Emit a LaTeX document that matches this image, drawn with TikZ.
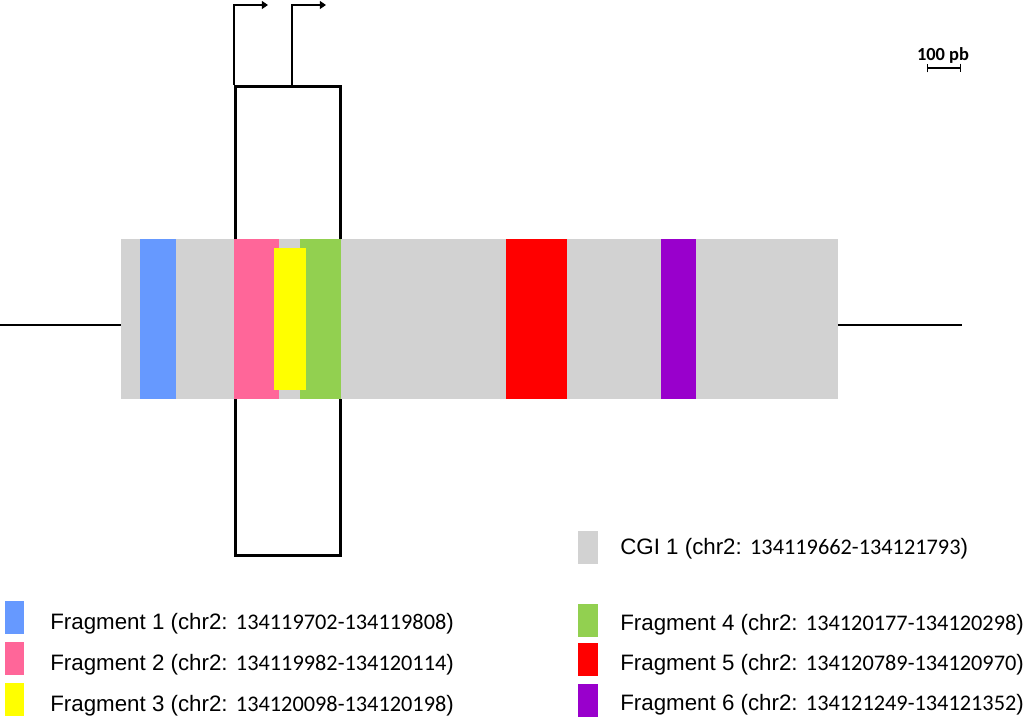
\documentclass[tikz,border=0pt]{standalone}
\usepackage{xcolor}
\usepackage{tikz}
\usepackage{fontspec}
\setmainfont{Liberation Sans}
\newfontfamily\numfont{Carlito}
\usetikzlibrary{arrows.meta,positioning}
\definecolor{CGIGrey}{RGB}{210,210,210}
\definecolor{FBlue}{RGB}{102,153,255}
\definecolor{FPink}{RGB}{255,102,153}
\definecolor{FYellow}{RGB}{255,255,0}
\definecolor{FGreen}{RGB}{146,208,80}
\definecolor{FRed}{RGB}{255,0,0}
\definecolor{FPurple}{RGB}{153,0,204}

\tikzset{
  block/.style={inner sep=0pt, outer sep=0pt, anchor=north west, minimum height=3.2cm},
  swatch/.style={inner sep=0pt, outer sep=0pt, anchor=north west, minimum width=0.4cm, minimum height=0.66cm},
  legend/.style={anchor=west, inner sep=0pt, font=\fontsize{12.7}{15}\selectfont},
  dnaline/.style={line width=1.1pt},
  tss/.style={line width=1pt, -{Triangle[length=3.5pt,width=4.5pt]}}
}

\begin{document}
\begin{tikzpicture}[x=0.02cm, y=-0.02cm]
  \useasboundingbox (0,0) rectangle (1024,717);

  % gene box behind the island
  \node[
    draw,
    line width=1.6pt,
    inner sep=0pt,
    anchor=north west,
    minimum width=2.1cm,
    minimum height=9.38cm
  ] (gene) at (234,85) {};

  \node[block, fill=CGIGrey, minimum width=14.34cm] (cgi) at (121,239) {};
  \node[block, fill=FBlue, minimum width=0.72cm] (frag1) at (140,239) {};
  \node[block, fill=FPink, minimum width=0.9cm] (frag2) at (234,239) {};
  \node[block, fill=FGreen, minimum width=0.82cm] (frag4) at (300,239) {};
  \node[block, fill=FYellow, minimum width=0.64cm, minimum height=2.84cm] (frag3) at (274,248) {};
  \node[block, fill=FRed, minimum width=1.22cm] (frag5) at (506,239) {};
  \node[block, fill=FPurple, minimum width=0.7cm] (frag6) at (661,239) {};

  \coordinate (dnaleft) at (0,325);
  \coordinate (dnaright) at (962,325);
  \draw[dnaline] (dnaleft) -- (dnaleft -| cgi.west);
  \draw[dnaline] (dnaright -| cgi.east) -- (dnaright);

  % transcription start sites
  \coordinate (tss1) at (268,5);
  \coordinate (tss2base) at (292,85);
  \coordinate (tss2) at (326,5);
  \draw[tss] (gene.north west) |- (tss1);
  \draw[tss] (tss2base) |- (tss2);

  % scale
  \node[font=\numfont\bfseries\fontsize{10.5}{12}\selectfont, inner sep=0pt] (scale) at (943,55) {100 pb};
  \coordinate (barl) at (927,68);
  \coordinate (barr) at (961,68);
  \draw[line width=0.8pt, {Bar[width=5pt]}-{Bar[width=5pt]}] (barl) -- (barr);

  % legend
  \node[swatch, fill=CGIGrey] (keycgi) at (578,531) {};
  \node[legend] (txtcgi) at (620,549) {CGI 1 (chr2: {\numfont 134119662-134121793})};

  \node[swatch, fill=FBlue, minimum width=0.38cm] (key1) at (5,601) {};
  \node[swatch, fill=FPink, minimum width=0.38cm] (key2) at (5,642) {};
  \node[swatch, fill=FYellow, minimum width=0.38cm] (key3) at (5,683) {};
  \node[legend] (txt1) at (50,624) {Fragment 1 (chr2: {\numfont 134119702-134119808})};
  \node[legend] (txt2) at (50,665) {Fragment 2 (chr2: {\numfont 134119982-134120114})};
  \node[legend] (txt3) at (50,706) {Fragment 3 (chr2: {\numfont 134120098-134120198})};

  \node[swatch, fill=FGreen] (key4) at (578,604) {};
  \node[swatch, fill=FRed] (key5) at (578,643) {};
  \node[swatch, fill=FPurple] (key6) at (578,684) {};
  \node[legend] (txt4) at (620,625) {Fragment 4 (chr2: {\numfont 134120177-134120298})};
  \node[legend] (txt5) at (620,665) {Fragment 5 (chr2: {\numfont 134120789-134120970})};
  \node[legend] (txt6) at (620,705) {Fragment 6 (chr2: {\numfont 134121249-134121352})};
\end{tikzpicture}
\end{document}
